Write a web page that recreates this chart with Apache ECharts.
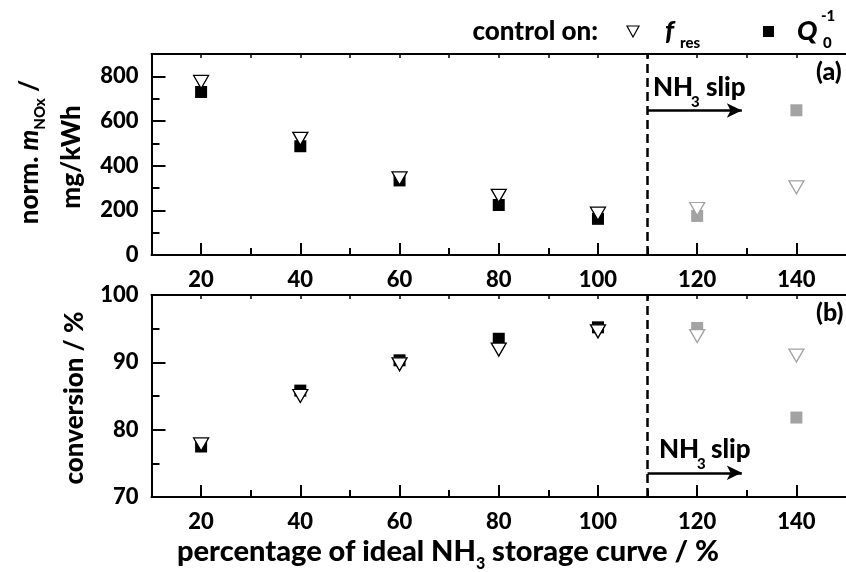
<!DOCTYPE html>
<html>
<head>
<meta charset="utf-8">
<script src="https://cdn.jsdelivr.net/npm/echarts@6/dist/echarts.min.js"></script>
<style>
  html, body { margin: 0; padding: 0; background: #ffffff; }
  #chart { width: 846px; height: 572px; }
</style>
</head>
<body>
<div id="chart"></div>
<script>
// Percentage of the ideal NH3 storage curve used as set point
const storagePct = [20, 40, 60, 80, 100, 120, 140];

// (a) normalised NOx mass, mg/kWh
const noxFres = [775, 520, 343, 265, 185, 206, 303];
const noxQ0   = [730, 487, 334, 224, 162, 175, 648];

// (b) NOx conversion, %
const convFres = [77.8, 85.0, 89.7, 91.9, 94.6, 93.9, 91.0];
const convQ0   = [77.5, 85.8, 90.3, 93.5, 95.2, 95.1, 81.8];

// Axis ticks and labels
const xLabels      = [20, 40, 60, 80, 100, 120, 140];
const xMinorTicks  = [30, 50, 70, 90, 110, 130];
const xTopTicks    = [20, 30, 40, 50, 60, 70, 80, 90, 100, 110, 120, 130, 140];
const noxLabels    = [0, 200, 400, 600, 800];
const noxMinor     = [100, 300, 500, 700];
const convLabels   = [70, 80, 90, 100];
const convMinor    = [75, 85, 95];

// Onset of NH3 slip and the extent of its arrow
const slipStart = 110;
const slipArrowEnd = 129;
const slipArrowNox = 647;
const slipArrowConv = 73.6;

const FONT = 'Lato';
const WEIGHT = 900;
const BLACK = '#000000';
const GREY = '#a3a3a3';

const chart = echarts.init(document.getElementById('chart'));

function xAxesFor(gridIndex) {
  const common = { gridIndex, type: 'value', min: 10, max: 150, splitLine: { show: false } };
  return [
    Object.assign({}, common, {
      position: 'bottom',
      axisLine: { show: true, onZero: false, lineStyle: { color: BLACK, width: 2 } },
      axisTick: { show: true, inside: true, length: 12, customValues: xLabels, lineStyle: { color: BLACK, width: 2 } },
      axisLabel: { show: true, customValues: xLabels, margin: 14, color: BLACK, fontFamily: FONT, fontWeight: WEIGHT, fontSize: 22 }
    }),
    Object.assign({}, common, {
      position: 'bottom',
      axisLine: { show: false },
      axisTick: { show: true, inside: true, length: 7, customValues: xMinorTicks, lineStyle: { color: BLACK, width: 2 } },
      axisLabel: { show: false }
    }),
    Object.assign({}, common, {
      position: 'top',
      axisLine: { show: true, onZero: false, lineStyle: { color: BLACK, width: 2 } },
      axisTick: { show: true, inside: true, length: 4, customValues: xTopTicks, lineStyle: { color: BLACK, width: 1.5 } },
      axisLabel: { show: false }
    })
  ];
}

function yAxesFor(gridIndex, min, max, labels, minor) {
  const common = { gridIndex, type: 'value', min, max, position: 'left', splitLine: { show: false } };
  return [
    Object.assign({}, common, {
      axisLine: { show: true, onZero: false, lineStyle: { color: BLACK, width: 2 } },
      axisTick: { show: true, inside: true, length: 14, customValues: labels, lineStyle: { color: BLACK, width: 2 } },
      axisLabel: { show: true, customValues: labels, margin: 13, color: BLACK, fontFamily: FONT, fontWeight: WEIGHT, fontSize: 22 }
    }),
    Object.assign({}, common, {
      axisLine: { show: false },
      axisTick: { show: true, inside: true, length: 8, customValues: minor, lineStyle: { color: BLACK, width: 2 } },
      axisLabel: { show: false }
    })
  ];
}

// Points beyond the slip onset are drawn in grey
function squarePoints(values) {
  return storagePct.map((x, i) => ({
    value: [x, values[i]],
    itemStyle: { color: x > slipStart ? GREY : BLACK, opacity: 1 }
  }));
}
function trianglePoints(values) {
  return storagePct.map((x, i) => ({
    value: [x, values[i]],
    itemStyle: { color: '#ffffff', borderColor: x > slipStart ? GREY : BLACK, borderWidth: 1.3, opacity: 1 }
  }));
}

function slipMarks(arrowY) {
  return {
    silent: true,
    symbol: ['none', 'none'],
    label: { show: false },
    animation: false,
    data: [
      { xAxis: slipStart, lineStyle: { type: [9, 5], width: 2.5, color: BLACK } },
      [
        { coord: [slipStart, arrowY], symbol: 'none', lineStyle: { type: 'solid', width: 2.5, color: BLACK } },
        { coord: [slipArrowEnd, arrowY], symbol: 'arrow', symbolSize: [11, 15] }
      ]
    ]
  };
}

function scatter(name, xAxisIndex, yAxisIndex, data, isTriangle, marks) {
  const s = {
    name, type: 'scatter', xAxisIndex, yAxisIndex, data,
    symbol: isTriangle ? 'triangle' : 'rect',
    symbolSize: isTriangle ? [15, 13] : 12,
    symbolRotate: isTriangle ? 180 : 0,
    itemStyle: { opacity: 1 },
    z: isTriangle ? 4 : 3,
    animation: false
  };
  if (marks) s.markLine = marks;
  return s;
}

// Text helpers
function txt(x, y, text, size, opts) {
  opts = opts || {};
  return {
    type: 'text', x, y, silent: true,
    style: {
      text, fill: BLACK,
      font: (opts.italic ? 'italic ' : '') + WEIGHT + ' ' + size + 'px ' + FONT,
      textAlign: opts.align || 'left',
      textVerticalAlign: opts.valign || 'middle'
    }
  };
}
function richTxt(x, y, text, rich, opts) {
  opts = opts || {};
  return {
    type: 'text', x, y, silent: true, rotation: opts.rotation || 0,
    style: {
      text, rich,
      textAlign: opts.align || 'center',
      textVerticalAlign: opts.valign || 'middle'
    }
  };
}
function makeRich(size, subSize) {
  const lh = Math.round(size * 1.36);
  return {
    b:   { fontFamily: FONT, fontWeight: WEIGHT, fontSize: size, lineHeight: lh, fill: BLACK },
    i:   { fontFamily: FONT, fontWeight: WEIGHT, fontStyle: 'italic', fontSize: size, lineHeight: lh, fill: BLACK },
    sub: { fontFamily: FONT, fontWeight: WEIGHT, fontSize: subSize, lineHeight: subSize, verticalAlign: 'bottom', fill: BLACK }
  };
}
const titleRich = makeRich(29, 16);
const axisNameRich = makeRich(26, 15);

const option = {
  backgroundColor: '#ffffff',
  animation: false,
  grid: [
    { left: 151.5, top: 54, width: 700, height: 201, containLabel: false },
    { left: 151.5, top: 295, width: 700, height: 202, containLabel: false }
  ],
  xAxis: [].concat(xAxesFor(0), xAxesFor(1)),
  yAxis: [].concat(yAxesFor(0, 0, 900, noxLabels, noxMinor), yAxesFor(1, 70, 100, convLabels, convMinor)),
  series: [
    scatter('Q0 (a)', 0, 0, squarePoints(noxQ0), false, slipMarks(slipArrowNox)),
    scatter('fres (a)', 0, 0, trianglePoints(noxFres), true),
    scatter('Q0 (b)', 3, 2, squarePoints(convQ0), false, slipMarks(slipArrowConv)),
    scatter('fres (b)', 3, 2, trianglePoints(convFres), true)
  ],
  graphic: [
    // legend
    txt(598, 32, 'control on:', 26, { align: 'right' }),
    { type: 'polygon', silent: true, shape: { points: [[627, 26], [639, 26], [633, 37]] },
      style: { fill: '#ffffff', stroke: BLACK, lineWidth: 1.2 } },
    txt(665, 31, 'f', 27, { italic: true }),
    txt(680, 43, 'res', 15),
    { type: 'rect', silent: true, shape: { x: 763, y: 26, width: 11, height: 11 }, style: { fill: BLACK } },
    txt(797, 31, 'Q', 27, { italic: true }),
    txt(823, 43, '0', 15),
    txt(821, 16, '-1', 15),

    // panel letters
    txt(816, 72, '(a)', 25),
    txt(816, 313, '(b)', 25),

    // NH3 slip annotations
    txt(653, 88, 'NH', 26),
    txt(691, 102, '3', 15),
    txt(706, 88, 'slip', 26),
    txt(659, 450, 'NH', 26),
    txt(697, 464, '3', 15),
    txt(711, 450, 'slip', 26),

    // axis titles
    richTxt(448, 552, '{b|percentage of ideal NH}{sub|3}{b| storage curve / %}', titleRich, {}),
    richTxt(30, 152, '{b|norm. }{i|m}{sub|NOx}{b| /}', axisNameRich, { rotation: Math.PI / 2 }),
    richTxt(72, 157, '{b|mg/kWh}', axisNameRich, { rotation: Math.PI / 2 }),
    richTxt(75, 398, '{b|conversion / %}', axisNameRich, { rotation: Math.PI / 2 })
  ]
};

chart.setOption(option);
</script>
</body>
</html>
